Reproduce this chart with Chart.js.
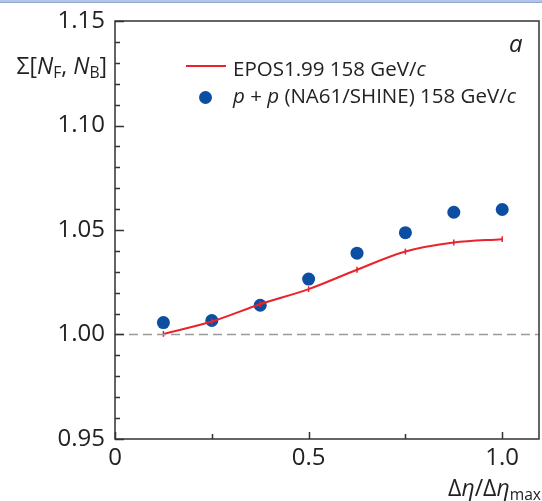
<!DOCTYPE html>
<html>
<head>
<meta charset="utf-8">
<script src="https://cdn.jsdelivr.net/npm/chart.js@4.4.0/dist/chart.umd.min.js"></script>
<style>
    html, body { margin: 0; padding: 0; background: #fff; }
    #wrap { position: relative; width: 542px; height: 501px; overflow: hidden; font-family: "Open Sans", sans-serif; color: #222; }
    #topbar { position: absolute; left: 0; top: 0; width: 542px; height: 2px; background: #b3c5e4; border-bottom: 1px solid #8fa7d2; }
    #chart { position: absolute; left: 0; top: 0; }
    .lbl { position: absolute; white-space: nowrap; line-height: 1; }
    .lbl sub { font-size: 0.68em; vertical-align: baseline; position: relative; top: 0.28em; }
    #ytitle { right: 435px; top: 54px; font-size: 23px; }
    #xtitle { right: 1px; top: 476px; font-size: 23px; }
    #panel { left: 509px; top: 31px; font-size: 24px; font-style: italic; }
    .leg { left: 233px; font-size: 20.5px; }
    #leg1 { top: 58px; }
    #leg2 { top: 85px; }
    #sw1 { position: absolute; left: 186px; top: 65px; width: 40px; height: 2px; background: #e8232b; }
    #sw2 { position: absolute; left: 199px; top: 91px; width: 13px; height: 13px; border-radius: 50%; background: #0b4ea2; }
</style>
</head>
<body>
<div id="wrap">
    <canvas id="chart" width="542" height="501"></canvas>
    <div id="topbar"></div>
    <div class="lbl" id="ytitle">Σ[<i>N</i><sub>F</sub>, <i>N</i><sub>B</sub>]</div>
    <div class="lbl" id="xtitle">Δ<i>η</i>/Δ<i>η</i><sub>max</sub></div>
    <div class="lbl" id="panel">a</div>
    <div id="sw1"></div>
    <div class="lbl leg" id="leg1">EPOS1.99 158 GeV/<i>c</i></div>
    <div id="sw2"></div>
    <div class="lbl leg" id="leg2"><i>p</i> + <i>p</i> (NA61/SHINE) 158 GeV/<i>c</i></div>
</div>
<script>
    // rapidity window fraction and forward-backward strongly intensive quantity
    var etaFraction = [0.125, 0.25, 0.375, 0.5, 0.625, 0.75, 0.875, 1.0];
    var sigmaNa61 = [1.0057, 1.0067, 1.0140, 1.0265, 1.0389, 1.0487, 1.0585, 1.0598];
    var sigmaEpos = [1.0003, 1.0062, 1.0145, 1.0217, 1.0310, 1.0397, 1.0440, 1.0456];
    var eposError = [0.0014, 0.0014, 0.0014, 0.0014, 0.0014, 0.0014, 0.0014, 0.0014];
    var referenceLevel = 1.0;

    var xRange = [0, 1.095];
    var yRange = [0.95, 1.15];
    var xTickValues = [0, 0.5, 1.0];
    var xTickLabels = ["0", "0.5", "1.0"];
    var yTickValues = [0.95, 1.00, 1.05, 1.10, 1.15];
    var yTickLabels = ["0.95", "1.00", "1.05", "1.10", "1.15"];

    function toPoints(xs, ys) {
        return xs.map(function(x, i) {
            return { x: x, y: ys[i] };
        });
    }

    function labelFor(value, values, labels) {
        for (var i = 0; i < values.length; i++) {
            if (Math.abs(values[i] - value) < 1e-6) {
                return labels[i];
            }
        }
        return "";
    }

    // frame, inward ticks and the small EPOS error bars
    var framePlugin = {
        id: "framePlugin",
        afterDatasetDraw: function(chart, args) {
            if (args.index !== 1) {
                return;
            }
            var ctx = chart.ctx;
            var xs = chart.scales.x;
            var ys = chart.scales.y;
            ctx.save();
            ctx.strokeStyle = "#e8232b";
            ctx.lineWidth = 1.5;
            etaFraction.forEach(function(x, i) {
                var px = xs.getPixelForValue(x);
                ctx.beginPath();
                ctx.moveTo(px, ys.getPixelForValue(sigmaEpos[i] - eposError[i]));
                ctx.lineTo(px, ys.getPixelForValue(sigmaEpos[i] + eposError[i]));
                ctx.stroke();
            });
            ctx.restore();
        },
        afterDraw: function(chart) {
            var ctx = chart.ctx;
            var area = chart.chartArea;
            var xs = chart.scales.x;
            var ys = chart.scales.y;
            ctx.save();
            ctx.strokeStyle = "#333";
            ctx.lineWidth = 1.5;
            ctx.strokeRect(area.left, area.top, area.right - area.left, area.bottom - area.top);

            ctx.beginPath();
            ys.ticks.forEach(function(t) {
                var py = Math.round(ys.getPixelForValue(t.value)) + 0.5;
                var len = labelFor(t.value, yTickValues, yTickLabels) ? 9 : 5;
                ctx.moveTo(area.left, py);
                ctx.lineTo(area.left + len, py);
            });
            xs.ticks.forEach(function(t) {
                var px = Math.round(xs.getPixelForValue(t.value)) + 0.5;
                var len = labelFor(t.value, xTickValues, xTickLabels) ? 7 : 5;
                ctx.moveTo(px, area.bottom);
                ctx.lineTo(px, area.bottom - len);
            });
            ctx.stroke();
            ctx.restore();
        }
    };

    var tickFont = { family: "'Open Sans', sans-serif", size: 24 };

    new Chart(document.getElementById("chart").getContext("2d"), {
        type: "scatter",
        data: {
            datasets: [{
                    data: toPoints([xRange[0], xRange[1]], [referenceLevel, referenceLevel]),
                    showLine: true,
                    borderColor: "#9a9a9a",
                    borderWidth: 1.5,
                    borderDash: [9, 5],
                    pointRadius: 0
                },
                {
                    label: "EPOS1.99 158 GeV/c",
                    data: toPoints(etaFraction, sigmaEpos),
                    showLine: true,
                    borderColor: "#e8232b",
                    borderWidth: 2,
                    cubicInterpolationMode: "monotone",
                    pointRadius: 0
                },
                {
                    label: "p + p (NA61/SHINE) 158 GeV/c",
                    data: toPoints(etaFraction, sigmaNa61),
                    showLine: false,
                    pointRadius: 6.5,
                    pointBackgroundColor: "#0b4ea2",
                    pointBorderWidth: 0
                }
            ]
        },
        options: {
            responsive: false,
            animation: false,
            devicePixelRatio: 1,
            layout: {
                autoPadding: false,
                padding: { top: 21, right: 3, left: 0, bottom: 0 }
            },
            plugins: {
                legend: { display: false },
                tooltip: { enabled: false }
            },
            scales: {
                x: {
                    type: "linear",
                    min: xRange[0],
                    max: xRange[1],
                    border: { display: false },
                    grid: { display: false, drawTicks: false },
                    afterFit: function(scale) {
                        scale.height = 62;
                        scale.paddingLeft = 0;
                        scale.paddingRight = 0;
                    },
                    ticks: {
                        stepSize: 0.25,
                        includeBounds: false,
                        autoSkip: false,
                        maxRotation: 0,
                        padding: 5,
                        color: "#222",
                        font: tickFont,
                        callback: function(value) {
                            return labelFor(value, xTickValues, xTickLabels);
                        }
                    }
                },
                y: {
                    type: "linear",
                    min: yRange[0],
                    max: yRange[1],
                    border: { display: false },
                    grid: { display: false, drawTicks: false },
                    afterFit: function(scale) {
                        scale.width = 115;
                        scale.paddingTop = 0;
                        scale.paddingBottom = 0;
                    },
                    ticks: {
                        stepSize: 0.01,
                        autoSkip: false,
                        padding: 10,
                        color: "#222",
                        font: tickFont,
                        callback: function(value) {
                            return labelFor(value, yTickValues, yTickLabels);
                        }
                    }
                }
            }
        },
        plugins: [framePlugin]
    });
</script>
</body>
</html>
